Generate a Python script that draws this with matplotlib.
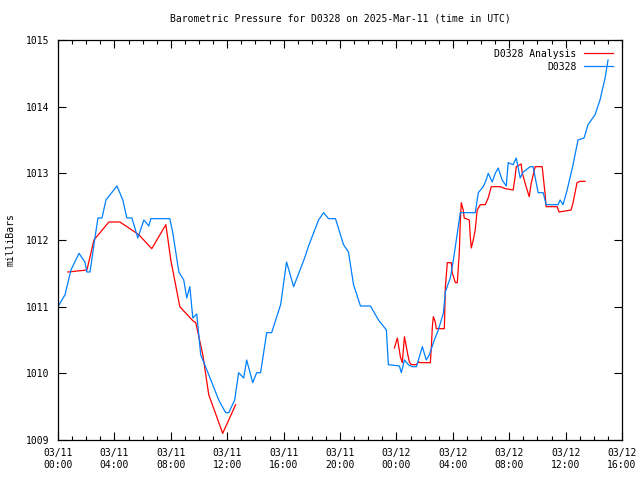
import numpy as np
import matplotlib
matplotlib.use("Agg")
import matplotlib.pyplot as plt
from matplotlib.ticker import MultipleLocator

# hours since 03/11 00:00 UTC
station_hours = [0.0, 0.5, 0.92, 1.49, 1.91, 2.05, 2.27, 2.55, 2.83, 3.12, 3.40, 4.18, 4.60, 4.88,
                 5.24, 5.66, 6.09, 6.44, 6.58, 7.93, 8.14, 8.57, 8.92, 9.13, 9.35, 9.56, 9.84, 10.12,
                 10.69, 11.40, 11.89, 12.11, 12.53, 12.81, 13.17, 13.38, 13.81, 14.09, 14.37, 14.80,
                 15.15, 15.79, 16.21, 16.71, 17.49, 17.77, 18.48, 18.83, 19.19, 19.68, 20.25, 20.60,
                 20.96, 21.45, 22.16, 22.73, 23.29, 23.43, 24.21, 24.35, 24.57, 24.85, 25.13, 25.42,
                 25.56, 25.84, 26.12, 26.34, 26.69, 26.97, 27.33, 27.47, 27.82, 28.04, 28.25, 28.53,
                 29.59, 29.81, 30.16, 30.37, 30.51, 30.80, 31.01, 31.22, 31.50, 31.79, 31.93, 32.28,
                 32.50, 32.78, 32.99, 33.49, 33.70, 34.05, 34.41, 34.62, 35.47, 35.61, 35.82, 36.11,
                 36.53, 36.88, 37.31, 37.59, 38.09, 38.44, 38.80, 39.01]
station_mb = [1011.00, 1011.18, 1011.55, 1011.80, 1011.67, 1011.52, 1011.52, 1011.93, 1012.33,
              1012.33, 1012.60, 1012.81, 1012.60, 1012.33, 1012.33, 1012.03, 1012.30, 1012.21,
              1012.32, 1012.32, 1012.11, 1011.52, 1011.40, 1011.13, 1011.30, 1010.83, 1010.89,
              1010.28, 1009.98, 1009.60, 1009.41, 1009.41, 1009.60, 1010.01, 1009.93, 1010.20,
              1009.86, 1010.01, 1010.01, 1010.61, 1010.61, 1011.03, 1011.67, 1011.30, 1011.73,
              1011.91, 1012.30, 1012.41, 1012.32, 1012.32, 1011.93, 1011.82, 1011.33, 1011.01,
              1011.01, 1010.80, 1010.65, 1010.13, 1010.11, 1010.01, 1010.20, 1010.13, 1010.10,
              1010.10, 1010.20, 1010.40, 1010.20, 1010.28, 1010.50, 1010.65, 1010.90, 1011.22,
              1011.43, 1011.70, 1012.00, 1012.41, 1012.41, 1012.71, 1012.80, 1012.90, 1013.00,
              1012.87, 1013.00, 1013.08, 1012.90, 1012.81, 1013.16, 1013.13, 1013.23, 1012.93,
              1013.02, 1013.10, 1013.10, 1012.71, 1012.71, 1012.53, 1012.53, 1012.60, 1012.53,
              1012.75, 1013.13, 1013.50, 1013.53, 1013.73, 1013.88, 1014.10, 1014.43, 1014.70]

# analysis series, NaN marks the gap with no analysis values
analysis_hours = [0.71, 2.05, 2.55, 3.61, 4.39, 5.03, 5.73, 6.65, 7.65, 8.00, 8.64, 9.56, 9.77,
                  10.27, 10.69, 11.68, 12.60, 18.0,
                  23.86, 24.07, 24.28, 24.42, 24.57, 24.78, 24.92, 25.06, 25.42, 25.56, 25.70,
                  26.41, 26.48, 26.55, 26.62, 26.76, 26.83, 27.40, 27.47, 27.61, 27.89, 27.96,
                  28.18, 28.32, 28.46, 28.53, 28.60, 28.74, 28.81, 29.17, 29.24, 29.31, 29.45,
                  29.59, 29.73, 29.95, 30.30, 30.51, 30.73, 31.36, 31.72, 32.28, 32.42, 32.50,
                  32.85, 32.92, 33.20, 33.42, 33.56, 33.84, 34.34, 34.55, 34.62, 35.40, 35.54,
                  36.39, 36.53, 36.81, 37.03, 37.38]
analysis_mb = [1011.52, 1011.55, 1012.00, 1012.27, 1012.27, 1012.18, 1012.08, 1011.87, 1012.23,
               1011.70, 1011.00, 1010.79, 1010.76, 1010.28, 1009.68, 1009.10, 1009.53, np.nan,
               1010.38, 1010.53, 1010.25, 1010.16, 1010.55, 1010.31, 1010.17, 1010.13, 1010.13,
               1010.17, 1010.16, 1010.16, 1010.40, 1010.70, 1010.85, 1010.77, 1010.67, 1010.67,
               1011.28, 1011.66, 1011.66, 1011.51, 1011.36, 1011.36, 1011.81, 1012.26, 1012.56,
               1012.45, 1012.33, 1012.30, 1012.05, 1011.88, 1012.00, 1012.15, 1012.45, 1012.53,
               1012.53, 1012.63, 1012.80, 1012.80, 1012.77, 1012.75, 1012.95, 1013.10, 1013.14,
               1013.01, 1012.80, 1012.65, 1012.85, 1013.10, 1013.10, 1012.68, 1012.50, 1012.50,
               1012.42, 1012.45, 1012.56, 1012.86, 1012.88, 1012.88]

tick_hours = [0, 4, 8, 12, 16, 20, 24, 28, 32, 36, 40]
tick_labels = ["03/11\n00:00", "03/11\n04:00", "03/11\n08:00", "03/11\n12:00", "03/11\n16:00",
               "03/11\n20:00", "03/12\n00:00", "03/12\n04:00", "03/12\n08:00", "03/12\n12:00",
               "03/12\n16:00"]

plt.rcParams['font.family'] = ['DejaVu Sans Mono']
plt.rcParams['font.size'] = 7

fig = plt.figure(figsize=(6.4, 4.8), dpi=100)
ax = fig.add_axes([58 / 640, 40 / 480, 564 / 640, 400 / 480])

ax.plot(analysis_hours, analysis_mb, color='#ff0000', lw=0.9, label='D0328 Analysis')
ax.plot(station_hours, station_mb, color='#0080ff', lw=0.9, label='D0328')

ax.set_xlim(0, 40)
ax.set_ylim(1009, 1015)
ax.set_xticks(tick_hours)
ax.set_xticklabels(tick_labels)
ax.xaxis.set_minor_locator(MultipleLocator(1))
ax.set_yticks(range(1009, 1016))
ax.tick_params(which='both', direction='in', top=True, right=True, width=0.8)
ax.tick_params(which='major', length=6, pad=6)
ax.tick_params(which='minor', length=3)
for s in ax.spines.values():
    s.set_linewidth(0.9)

ax.set_title('Barometric Pressure for D0328 on 2025-Mar-11 (time in UTC)', fontsize=7, pad=13)
ax.set_ylabel('milliBars', labelpad=8)

leg = ax.legend(loc='upper right', frameon=False, markerfirst=False, handlelength=3.0,
                borderaxespad=0.5, labelspacing=0.3, handletextpad=0.8)

fig.savefig('out.png', dpi=100)
